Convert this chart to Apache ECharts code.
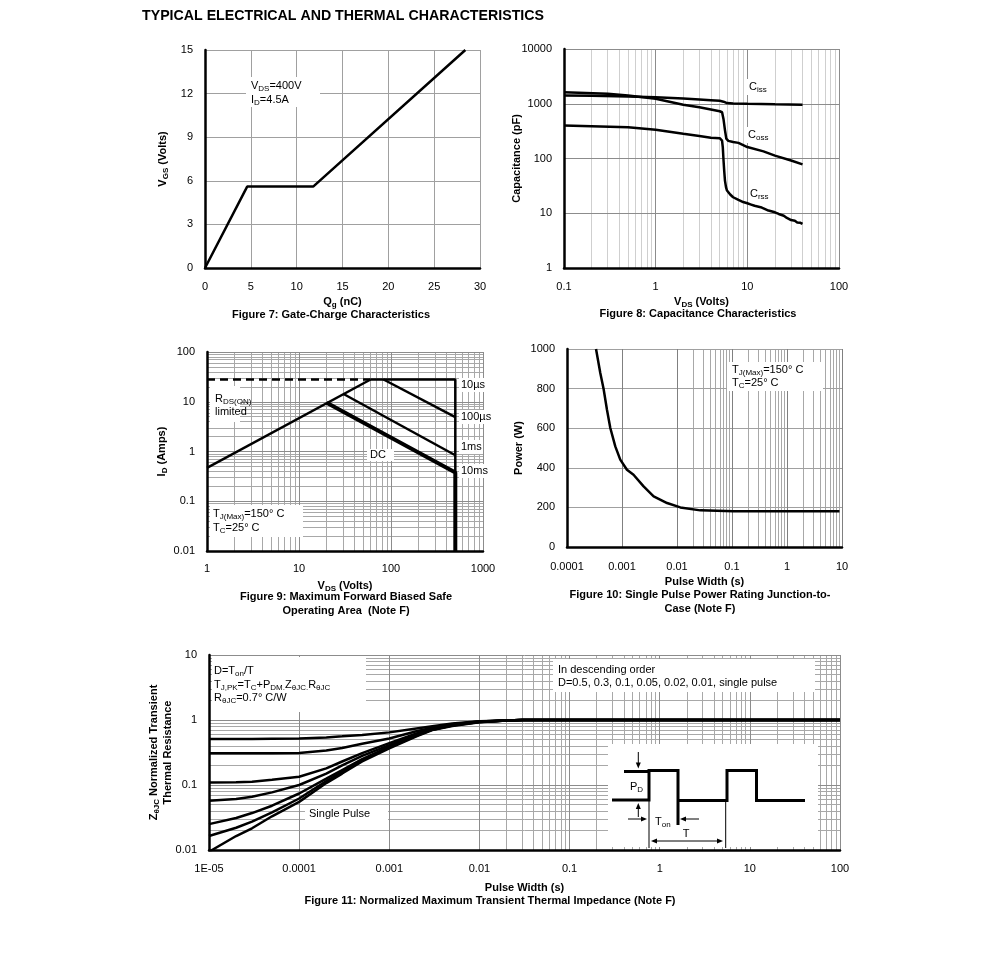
<!DOCTYPE html>
<html><head><meta charset="utf-8">
<script src="https://cdn.jsdelivr.net/npm/echarts@6/dist/echarts.min.js"></script>
<style>html,body{margin:0;padding:0;background:#fff;}#c{width:991px;height:971px;}</style>
</head><body><div id="c"></div>
<script>
const FONT = "'Liberation Sans', Arial, Helvetica, sans-serif";

// ---------- Figure 7: Gate charge ----------
const qgNc = [0, 4.6, 11.8, 28.4];
const vgsVolts = [0, 5.6, 5.6, 15];

// ---------- Figure 8: Capacitance ----------
const cissVds = [0.1, 0.2, 0.5, 1, 2, 3, 4, 5, 5.5, 6, 7, 10, 20, 40];
const cissPf = [1420, 1400, 1360, 1320, 1250, 1200, 1160, 1130, 1090, 1030, 1010, 995, 975, 960];
const cossVds = [0.1, 0.3, 0.5, 1, 2, 3, 4, 5, 5.3, 5.5, 5.7, 5.9, 6.2, 7, 8, 10, 15, 20, 30, 40];
const cossPf = [1630, 1520, 1420, 1235, 960, 860, 785, 730, 700, 520, 330, 230, 210, 200, 193, 162, 135, 113, 92, 78];
const crssVds = [0.1, 0.5, 1, 2, 3, 4, 5, 5.3, 5.4, 5.5, 5.6, 5.7, 5.85, 6, 6.5, 7, 8, 9, 10, 11, 12, 14, 15, 17, 20, 22, 25, 27, 30, 33, 35, 38, 40];
const crssPf = [402, 374, 335, 283, 258, 240, 235, 213, 160, 92, 58, 39.5, 30, 26, 22, 19.6, 17.5, 16, 15.2, 14.4, 13.7, 12.9, 12.3, 11.2, 10.4, 9.7, 9, 8.2, 7.5, 7.3, 6.8, 6.7, 6.4];

// ---------- Figure 9: SOA ----------
const limitV = [1, 60], limitA = [28, 28];
const rdsV = [1, 60], rdsA = [0.47, 28];
const us10V = [60, 500, 500], us10A = [28, 28, 0.38];
const us100V = [83, 500], us100A = [28, 4.9];
const ms1V = [30.5, 500], ms1A = [14.3, 0.84];
const dcV = [20, 500, 500], dcA = [9.5, 0.38, 0.01];

// ---------- Figure 10: Single pulse power ----------
const pulseW10 = [3.37e-4, 4.03e-4, 4.63e-4, 5.33e-4, 6.13e-4, 7.55e-4, 9.3e-4, 1.23e-3, 1.62e-3, 2.47e-3, 3.76e-3, 6.6e-3, 0.0115, 0.0265, 0.107, 1, 9];
const powerW = [1000, 879, 798, 693, 601, 508, 441, 390, 365, 306, 256, 222, 200, 185, 180, 180, 180];

// ---------- Figure 11: Transient thermal impedance ----------
const pw11 = [1e-5, 2e-5, 3e-5, 5e-5, 1e-4, 2e-4, 3e-4, 5e-4, 1e-3, 2e-3, 3e-3, 5e-3, 1e-2, 2e-2, 3e-2, 0.1, 1, 10, 100];
const zD05 = [0.51, 0.51, 0.51, 0.515, 0.52, 0.54, 0.56, 0.59, 0.645, 0.74, 0.8, 0.88, 0.96, 0.985, 1, 1, 1, 1, 1];
const zD03 = [0.307, 0.307, 0.307, 0.308, 0.31, 0.34, 0.37, 0.43, 0.52, 0.67, 0.76, 0.86, 0.95, 0.985, 1, 1, 1, 1, 1];
const zD01 = [0.109, 0.11, 0.112, 0.12, 0.134, 0.18, 0.23, 0.31, 0.44, 0.62, 0.74, 0.85, 0.95, 0.985, 1, 1, 1, 1, 1];
const zD005 = [0.057, 0.061, 0.066, 0.077, 0.1, 0.15, 0.2, 0.28, 0.41, 0.6, 0.72, 0.84, 0.94, 0.985, 1, 1, 1, 1, 1];
const zD002 = [0.025, 0.031, 0.037, 0.048, 0.074, 0.125, 0.17, 0.25, 0.39, 0.58, 0.71, 0.83, 0.93, 0.985, 1, 1, 1, 1, 1];
const zD001 = [0.0164, 0.022, 0.0273, 0.038, 0.062, 0.115, 0.16, 0.24, 0.38, 0.57, 0.71, 0.82, 0.93, 0.98, 1, 1, 1, 1, 1];
const zSingle = [0.0094, 0.0164, 0.0216, 0.033, 0.055, 0.107, 0.15, 0.23, 0.367, 0.56, 0.7, 0.81, 0.92, 0.98, 1, 1, 1, 1, 1];

// ---------- Tick labels ----------
const fig8XLabels = ['0.1', '1', '10', '100'];
const fig8YLabels = ['1', '10', '100', '1000', '10000'];
const fig9XLabels = ['1', '10', '100', '1000'];
const fig9YLabels = ['0.01', '0.1', '1', '10', '100'];
const fig10XLabels = ['0.0001', '0.001', '0.01', '0.1', '1', '10'];
const fig11XLabels = ['1E-05', '0.0001', '0.001', '0.01', '0.1', '1', '10', '100'];
const fig11YLabels = ['0.01', '0.1', '1', '10'];

// ---------- helpers ----------
const zip = (xs, ys) => xs.map((x, i) => [x, ys[i]]);
const logFmt = (labels, minExp) => v => { const l = labels[Math.round(Math.log10(v)) - minExp]; return l == null ? '' : l; };
const plainFmt = v => String(v);
const minorLogValues = (e0, e1) => { const out = []; for (let e = e0; e < e1; e++) for (let k = 2; k <= 9; k++) out.push(+(k * Math.pow(10, e)).toPrecision(3)); return out; };

const RICH_B = { s: { fontSize: 8, fontWeight: 'bold', fontFamily: FONT, lineHeight: 7, verticalAlign: 'bottom' } };
const RICH_N = { s: { fontSize: 8, fontFamily: FONT, lineHeight: 7, verticalAlign: 'bottom' } };

function makeAxis(o) {
  const a = {
    gridIndex: o.grid, type: o.type, min: o.min, max: o.max,
    name: o.name, nameLocation: 'middle', nameGap: o.nameGap, nameMoveOverlap: false,
    nameTextStyle: { color: '#000', fontFamily: FONT, fontSize: 11, fontWeight: 'bold', lineHeight: 14, rich: RICH_B },
    axisLine: { show: true, onZero: false, lineStyle: { color: '#000', width: 2.5 } },
    axisTick: { show: false },
    axisLabel: { color: '#000', fontFamily: FONT, fontSize: 11, margin: o.margin || 12, formatter: o.formatter || plainFmt },
    splitLine: { show: o.split !== false, showMinLine: false, lineStyle: { color: o.gridColor || '#a0a0a0', width: 1 } },
    z: 2
  };
  if (o.type === 'log') a.logBase = 10;
  if (o.interval) a.interval = o.interval;
  return a;
}
function minorGrid(gi, axis, values, color) {
  return {
    type: 'line', xAxisIndex: gi, yAxisIndex: gi, data: [], silent: true, z: 1,
    markLine: {
      silent: true, symbol: 'none', z: 1, animation: false, label: { show: false },
      lineStyle: { type: 'solid', color: color, width: 1 }, emphasis: { disabled: true },
      data: values.map(v => ({ [axis]: v }))
    }
  };
}
function curve(gi, data, width, extra) {
  return Object.assign({
    type: 'line', xAxisIndex: gi, yAxisIndex: gi, data: data, showSymbol: false, symbol: 'none',
    smooth: false, clip: true, silent: true, z: 3,
    lineStyle: { color: '#000', width: width || 2.5 }
  }, extra || {});
}

// ---------- graphic helpers ----------
const G = [];
function txt(x, y, text, opt) {
  opt = opt || {};
  G.push({
    type: 'text', x: x, y: y, z: 12, silent: true,
    style: {
      text: text, fill: '#000', fontFamily: FONT, fontSize: opt.size || 11,
      fontWeight: opt.bold ? 'bold' : 'normal', align: opt.align || 'left', verticalAlign: 'middle',
      lineHeight: opt.lh || 14, rich: opt.bold ? RICH_B : RICH_N
    }
  });
}
function box(x, y, w, h) {
  G.push({ type: 'rect', z: 11, silent: true, shape: { x: x, y: y, width: w, height: h }, style: { fill: '#fff' } });
}
function pl(points, w) {
  G.push({ type: 'polyline', z: 13, silent: true, shape: { points: points }, style: { stroke: '#000', lineWidth: w, fill: null } });
}
function head(x, y, dir) {
  const L = 6, W = 2.5; let pts;
  if (dir === 'down') pts = [[x, y], [x - W, y - L], [x + W, y - L]];
  if (dir === 'up') pts = [[x, y], [x - W, y + L], [x + W, y + L]];
  if (dir === 'right') pts = [[x, y], [x - L, y - W], [x - L, y + W]];
  if (dir === 'left') pts = [[x, y], [x + L, y - W], [x + L, y + W]];
  G.push({ type: 'polygon', z: 13, silent: true, shape: { points: pts }, style: { fill: '#000' } });
}

// Main title and captions
txt(142, 16, 'TYPICAL ELECTRICAL AND THERMAL CHARACTERISTICS', { bold: true, size: 14.2 });
txt(331, 315, 'Figure 7: Gate-Charge Characteristics', { bold: true, align: 'center' });
txt(698, 314, 'Figure 8: Capacitance Characteristics', { bold: true, align: 'center' });
txt(346, 597, 'Figure 9: Maximum Forward Biased Safe', { bold: true, align: 'center' });
txt(346, 611, 'Operating Area  (Note F)', { bold: true, align: 'center' });
txt(700, 595, 'Figure 10: Single Pulse Power Rating Junction-to-', { bold: true, align: 'center' });
txt(700, 609, 'Case (Note F)', { bold: true, align: 'center' });
txt(490, 901, 'Figure 11: Normalized Maximum Transient Thermal Impedance (Note F)', { bold: true, align: 'center' });

// Fig 7 annotation
box(246, 77, 74, 30);
txt(251, 86, 'V{s|DS}=400V');
txt(251, 100, 'I{s|D}=4.5A');
// Fig 8 labels
box(747, 79, 22, 16); txt(749, 87, 'C{s|iss}');
box(746, 127, 24, 16); txt(748, 135, 'C{s|oss}');
box(748, 186, 22, 16); txt(750, 194, 'C{s|rss}');
// Fig 9 annotations
box(210, 386, 30, 36);
txt(215, 399, 'R{s|DS(ON)}');
txt(215, 412, 'limited');
box(210, 505, 93, 32);
txt(213, 514, 'T{s|J(Max)}=150° C');
txt(213, 528, 'T{s|C}=25° C');
box(459, 378, 26, 14); txt(461, 385, '10µs');
box(459, 410, 32, 14); txt(461, 417, '100µs');
box(459, 440, 24, 14); txt(461, 447, '1ms');
box(459, 464, 28, 14); txt(461, 471, '10ms');
box(367, 449, 27, 12); txt(370, 455, 'DC');
// Fig 10 annotation
box(727, 362, 96, 29);
txt(732, 370, 'T{s|J(Max)}=150° C');
txt(732, 383, 'T{s|C}=25° C');
// Fig 11 annotations
box(212, 657, 154, 55);
txt(214, 671, 'D=T{s|on}/T');
txt(214, 685, 'T{s|J,PK}=T{s|C}+P{s|DM.}Z{s|θJC.}R{s|θJC}');
txt(214, 698, 'R{s|θJC}=0.7° C/W');
box(553, 659, 262, 33);
txt(558, 670, 'In descending order');
txt(558, 683, 'D=0.5, 0.3, 0.1, 0.05, 0.02, 0.01, single pulse');
box(305, 807, 83, 14);
txt(309, 814, 'Single Pulse');
// Fig 11 inset: pulse waveform schematic
box(608, 744, 210, 103);
pl([[612, 800], [649, 800], [649, 770.5], [678, 770.5], [678, 825]], 3);
pl([[678, 800.5], [727, 800.5], [727, 770.5], [756.5, 770.5], [756.5, 800.5], [805, 800.5]], 3);
pl([[624, 771.5], [648, 771.5]], 3);
pl([[649, 800], [649, 848]], 1);
pl([[725.7, 800], [725.7, 848]], 1);
pl([[638.3, 752], [638.3, 764]], 1); head(638.3, 768.5, 'down');
pl([[638.3, 817], [638.3, 807]], 1); head(638.3, 803, 'up');
pl([[628, 819], [642, 819]], 1); head(647, 819, 'right');
pl([[699, 819], [685, 819]], 1); head(680, 819, 'left');
pl([[655, 841], [719, 841]], 1); head(651, 841, 'left'); head(723, 841, 'right');
txt(630, 787, 'P{s|D}');
txt(655, 822, 'T{s|on}');
txt(686, 834, 'T', { align: 'center' });

const grids = [
  { left: 205, top: 50, width: 275, height: 218 },
  { left: 564, top: 49, width: 275, height: 219 },
  { left: 207, top: 352, width: 276, height: 199 },
  { left: 567, top: 349, width: 275, height: 198 },
  { left: 209, top: 655, width: 631, height: 195 }
];

const xAxes = [
  makeAxis({ grid: 0, type: 'value', min: 0, max: 30, interval: 5, name: 'Q{s|g} (nC)', nameGap: 27, margin: 13 }),
  makeAxis({ grid: 1, type: 'log', min: 0.1, max: 100, name: 'V{s|DS} (Volts)', nameGap: 27, margin: 13, formatter: logFmt(fig8XLabels, -1), gridColor: '#8c8c8c' }),
  makeAxis({ grid: 2, type: 'log', min: 1, max: 1000, name: 'V{s|DS} (Volts)', nameGap: 28, margin: 12, formatter: logFmt(fig9XLabels, 0), gridColor: '#8c8c8c' }),
  makeAxis({ grid: 3, type: 'log', min: 0.0001, max: 10, name: 'Pulse Width (s)', nameGap: 28, margin: 14, formatter: logFmt(fig10XLabels, -4), gridColor: '#808080' }),
  makeAxis({ grid: 4, type: 'log', min: 0.00001, max: 100, name: 'Pulse Width (s)', nameGap: 31, margin: 13, formatter: logFmt(fig11XLabels, -5), gridColor: '#8c8c8c' })
];
const yAxes = [
  makeAxis({ grid: 0, type: 'value', min: 0, max: 15, interval: 3, name: 'V{s|GS} (Volts)', nameGap: 35 }),
  makeAxis({ grid: 1, type: 'log', min: 1, max: 10000, name: 'Capacitance (pF)', nameGap: 40, formatter: logFmt(fig8YLabels, 0), gridColor: '#8c8c8c' }),
  makeAxis({ grid: 2, type: 'log', min: 0.01, max: 100, name: 'I{s|D} (Amps)', nameGap: 38, formatter: logFmt(fig9YLabels, -2), gridColor: '#8c8c8c' }),
  makeAxis({ grid: 3, type: 'value', min: 0, max: 1000, interval: 200, name: 'Power (W)', nameGap: 41, gridColor: '#a0a0a0' }),
  makeAxis({ grid: 4, type: 'log', min: 0.01, max: 10, name: 'Z{s|θJC} Normalized Transient\nThermal Resistance', nameGap: 34, formatter: logFmt(fig11YLabels, -2), gridColor: '#8c8c8c' })
];

const series = [
  // minor gridlines
  minorGrid(1, 'xAxis', minorLogValues(-1, 2), '#cfcfcf'),
  minorGrid(2, 'xAxis', minorLogValues(0, 3), '#a8a8a8'),
  minorGrid(2, 'yAxis', minorLogValues(-2, 2), '#a8a8a8'),
  minorGrid(3, 'xAxis', minorLogValues(-4, 1), '#a8a8a8'),
  minorGrid(4, 'xAxis', minorLogValues(-5, 2), '#a8a8a8'),
  minorGrid(4, 'yAxis', minorLogValues(-2, 1), '#a8a8a8'),
  // Fig 7
  curve(0, zip(qgNc, vgsVolts), 2.5),
  // Fig 8
  curve(1, zip(cissVds, cissPf), 2.5),
  curve(1, zip(cossVds, cossPf), 2.5),
  curve(1, zip(crssVds, crssPf), 2.5),
  // Fig 9
  curve(2, zip(limitV, limitA), 2.5, { lineStyle: { color: '#000', width: 2.5, type: [8, 5] } }),
  curve(2, zip(rdsV, rdsA), 2.5),
  curve(2, zip(us10V, us10A), 2.5),
  curve(2, zip(us100V, us100A), 2.5),
  curve(2, zip(ms1V, ms1A), 2.5),
  curve(2, zip(dcV, dcA), 4),
  // Fig 10
  curve(3, zip(pulseW10, powerW), 2.5),
  // Fig 11
  curve(4, zip(pw11, zD05), 2.5),
  curve(4, zip(pw11, zD03), 2.5),
  curve(4, zip(pw11, zD01), 2.5),
  curve(4, zip(pw11, zD005), 2.5),
  curve(4, zip(pw11, zD002), 2.5),
  curve(4, zip(pw11, zD001), 2.5),
  curve(4, zip(pw11, zSingle), 2.5)
];

const chart = echarts.init(document.getElementById('c'), null, { renderer: 'canvas' });
chart.setOption({
  animation: false,
  backgroundColor: '#fff',
  textStyle: { fontFamily: FONT },
  grid: grids,
  xAxis: xAxes,
  yAxis: yAxes,
  series: series,
  graphic: { elements: G }
});
</script>
</body></html>
